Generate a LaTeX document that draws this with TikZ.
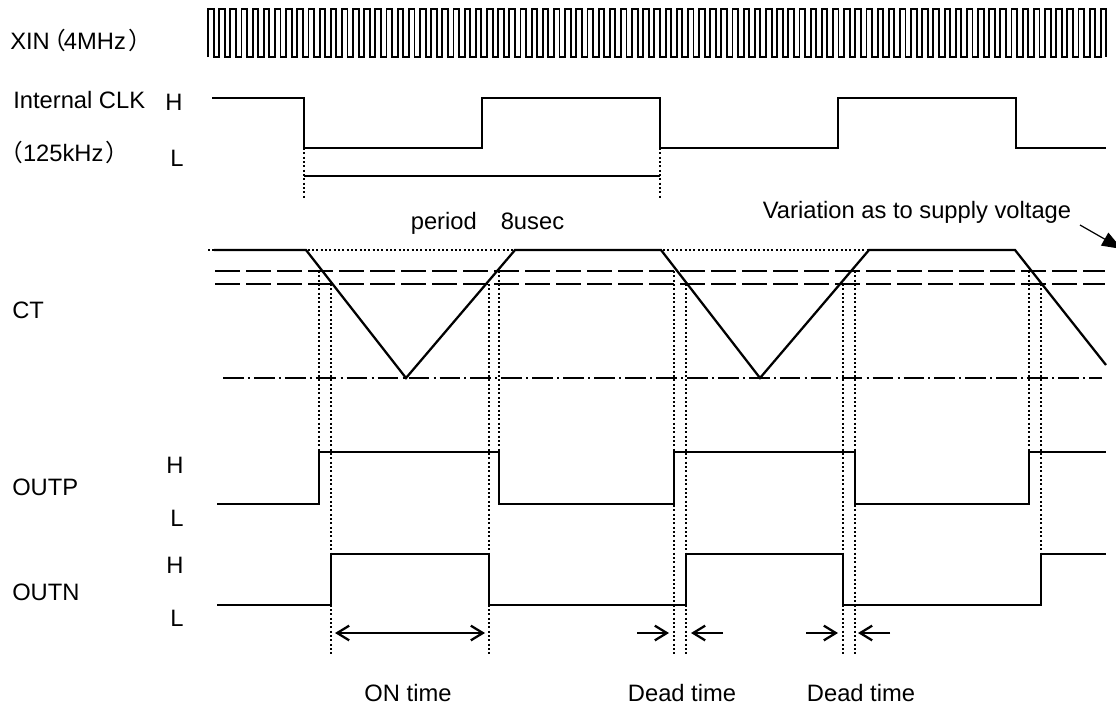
\documentclass[tikz,border=0pt]{standalone}
\usepackage{fontspec}
\setmainfont{Liberation Sans}
\newfontfamily\cjkfont{Noto Sans CJK JP}
\newcommand{\zenl}{{\cjkfont （}}
\newcommand{\zenr}{{\cjkfont ）}}
\usetikzlibrary{arrows.meta,arrows,positioning}
\tikzset{
lab/.style={inner sep=0pt,font=\fontsize{17.8pt}{20pt}\selectfont},
leftlab/.style={lab,anchor=west},
wave/.style={line width=1.7pt,line join=miter},
clockwave/.style={line width=1.4pt},
guide/.style={line width=1.3pt,dash pattern=on 1.5pt off 1.75pt},
level/.style={line width=1.8pt,dash pattern=on 18.75pt off 4.5pt},
bottomlevel/.style={line width=1.8pt,dash pattern=on 15.5pt off 3.2pt on 1.5pt off 3pt},
span/.style={line width=1.7pt,>={Straight Barb[length=9pt,width=11pt]}}
}
\begin{document}
\begin{tikzpicture}[x=0.75pt,y=-0.75pt]
\useasboundingbox (0,0) rectangle (1116,708);
\node[leftlab] (xin) at (10,40) {XIN\hspace{-5.2pt}\zenl\hspace{-2pt}4MHz\hspace{2pt}\zenr};
\node[leftlab] (clk) at (13,100) {Internal CLK};
\node[leftlab] (freq) at (-1,152) {\zenl 125kHz\hspace{1.5pt}\zenr};
\node[lab] (clkh) at (174,102) {H};
\node[lab] (clkl) at (177,158) {L};
\node[lab] (period) at (487.5,223) {period\hspace{18pt}8usec};
\node[lab] (vari) at (917,212) {Variation as to supply voltage};
\node[leftlab] (ct) at (12,310) {CT};
\node[leftlab] (outp) at (12,487) {OUTP};
\node[lab] (ph) at (175,465) {H};
\node[lab] (pl) at (177,518) {L};
\node[leftlab] (outn) at (12,592) {OUTN};
\node[lab] (nh) at (175,565) {H};
\node[lab] (nl) at (177,618) {L};
\node[lab] (ontime) at (408,693) {ON time};
\node[lab] (dead1) at (682,693) {Dead time};
\node[lab] (dead2) at (861,693) {Dead time};
% clock waveforms
\draw[clockwave] (208,57) foreach \i in {0,...,79} {-- ++(0,-48) -- ++(5.58,0) -- ++(0,48) -- ++(5.58,0)} -- ++(0,-48) -- ++(5.58,0) -- ++(0,48);
\draw[wave] (212,98) -| (304,148) -| (482,98) -| (660,148) -| (838,98) -| (1016,148) -- (1106,148);
\draw[wave] (304,176) -- (660,176);
\foreach \x in {304,660}
\draw[guide] (\x,148) -- (\x,198);
% CT levels
\draw[guide] (208,250) -- (930,250);
\draw[level] (215,271) -- (1105,271);
\draw[level] (215,284) -- (1105,284);
\draw[bottomlevel] (223,378) -- (1102,378);
\draw[wave] (214,250) -- (306,250) -- (406,378) -- (515,250) -- (661,250) -- (760,378) -- (869,250) -- (1015,250) -- (1106,365);
% guides
\draw[guide] (319,271) -- (319,452);
\draw[guide] (331,284) -- (331,654);
\draw[guide] (489,284) -- (489,654);
\draw[guide] (499,271) -- (499,504);
\draw[guide] (674,271) -- (674,654);
\draw[guide] (686,284) -- (686,654);
\draw[guide] (843,284) -- (843,654);
\draw[guide] (855,271) -- (855,654);
\draw[guide] (1029,271) -- (1029,452);
\draw[guide] (1041,284) -- (1041,554);
% outputs
\draw[wave] (217,504) -| (319,452) -| (499,504) -| (674,452) -| (855,504) -| (1029,452) -- (1106,452);
\draw[wave] (217,605) -| (331,554) -| (489,605) -| (686,554) -| (843,605) -| (1041,554) -- (1106,554);
% arrows
\coordinate (on1) at (335,633);
\coordinate (on2) at (485,633);
\coordinate (d1a) at (637,633);
\coordinate (d1b) at (669,633);
\coordinate (d1c) at (723,633);
\coordinate (d1d) at (691,633);
\coordinate (d2a) at (806,633);
\coordinate (d2b) at (838,633);
\coordinate (d2c) at (890,633);
\coordinate (d2d) at (858,633);
\coordinate (vara) at (1080,225);
\coordinate (varb) at (1122,249);
\path[span]
(on1) edge[<->] (on2)
(d1a) edge[->] (d1b)
(d1c) edge[->] (d1d)
(d2a) edge[->] (d2b)
(d2c) edge[->] (d2d);
\draw[line width=0.9pt,-{Triangle[length=15pt,width=11pt]}] (vara) -- (varb);
\end{tikzpicture}
\end{document}
